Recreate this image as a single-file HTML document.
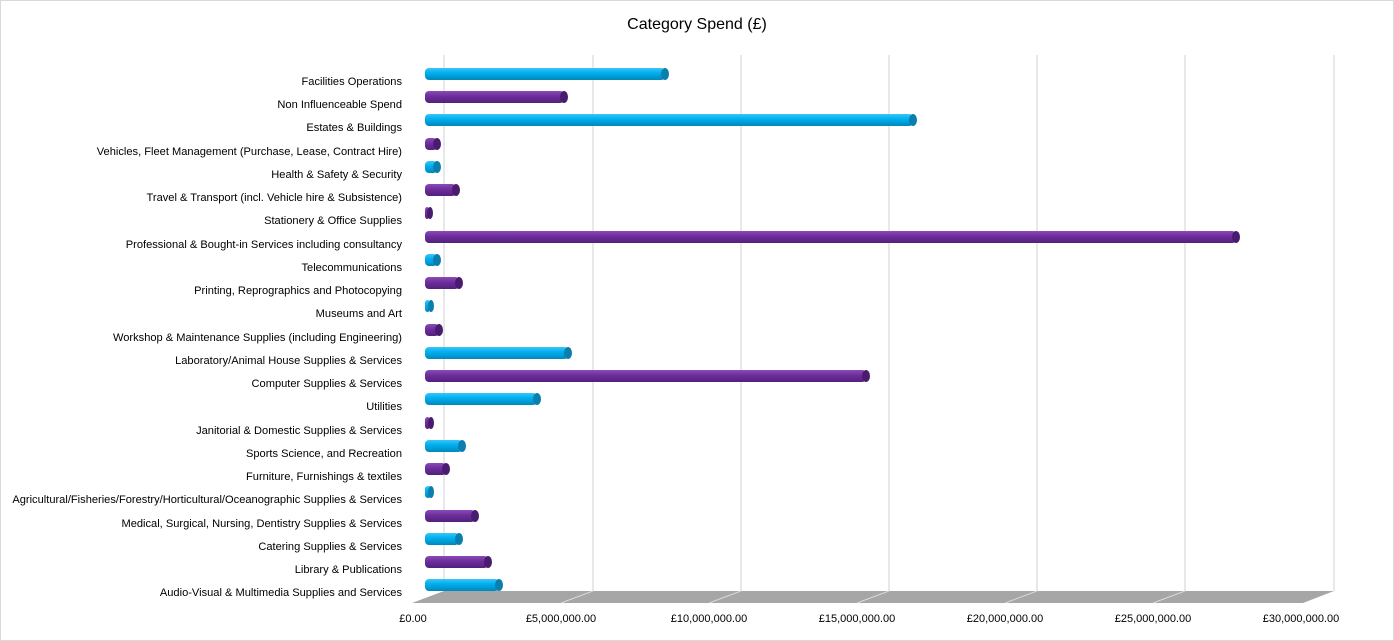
<!DOCTYPE html>
<html><head><meta charset="utf-8"><style>
html,body{margin:0;padding:0;background:#fff}
svg{display:block}
text{font-family:"Liberation Sans",sans-serif;fill:#000}
</style></head><body>
<svg width="1394" height="641" viewBox="0 0 1394 641" xmlns="http://www.w3.org/2000/svg">
<defs>
<linearGradient id="gc" x1="0" y1="0" x2="0" y2="1"><stop offset="0" stop-color="#39c6f7"/><stop offset="0.4" stop-color="#00b0f0"/><stop offset="1" stop-color="#0088ba"/></linearGradient>
<linearGradient id="gp" x1="0" y1="0" x2="0" y2="1"><stop offset="0" stop-color="#8a4cb8"/><stop offset="0.4" stop-color="#7030a0"/><stop offset="1" stop-color="#52207a"/></linearGradient>
</defs>
<rect x="0.5" y="0.5" width="1393" height="640" fill="#fff" stroke="#d9d9d9"/>
<text x="697" y="29" font-size="16" text-anchor="middle">Category Spend (£)</text>
<g stroke="#d9d9d9" stroke-width="1.2">
<line x1="444" y1="55" x2="444" y2="591"/>
<line x1="593" y1="55" x2="593" y2="591"/>
<line x1="741" y1="55" x2="741" y2="591"/>
<line x1="889" y1="55" x2="889" y2="591"/>
<line x1="1037" y1="55" x2="1037" y2="591"/>
<line x1="1185" y1="55" x2="1185" y2="591"/>
<line x1="1334" y1="55" x2="1334" y2="591"/>
</g>
<polygon points="444,591 1334,591 1303,603 412,603" fill="#a6a6a6"/>
<g stroke="#d9d9d9" stroke-width="1">
<line x1="593" y1="591" x2="561" y2="603"/>
<line x1="741" y1="591" x2="709" y2="603"/>
<line x1="889" y1="591" x2="857" y2="603"/>
<line x1="1037" y1="591" x2="1005" y2="603"/>
<line x1="1185" y1="591" x2="1153" y2="603"/>
</g>
<g font-size="11" text-anchor="middle">
<text x="413" y="622">£0.00</text>
<text x="561" y="622">£5,000,000.00</text>
<text x="709" y="622">£10,000,000.00</text>
<text x="857" y="622">£15,000,000.00</text>
<text x="1005" y="622">£20,000,000.00</text>
<text x="1153" y="622">£25,000,000.00</text>
<text x="1301" y="622">£30,000,000.00</text>
</g>
<g font-size="11.1" text-anchor="end">
<text x="402" y="85">Facilities Operations</text>
<text x="402" y="108">Non Influenceable Spend</text>
<text x="402" y="131">Estates &amp; Buildings</text>
<text x="402" y="155">Vehicles, Fleet Management (Purchase, Lease, Contract Hire)</text>
<text x="402" y="178">Health &amp; Safety &amp; Security</text>
<text x="402" y="201">Travel &amp; Transport (incl. Vehicle hire &amp; Subsistence)</text>
<text x="402" y="224">Stationery &amp; Office Supplies</text>
<text x="402" y="248">Professional &amp; Bought-in Services including consultancy</text>
<text x="402" y="271">Telecommunications</text>
<text x="402" y="294">Printing, Reprographics and Photocopying</text>
<text x="402" y="317">Museums and Art</text>
<text x="402" y="341">Workshop &amp; Maintenance Supplies (including Engineering)</text>
<text x="402" y="364">Laboratory/Animal House Supplies &amp; Services</text>
<text x="402" y="387">Computer Supplies &amp; Services</text>
<text x="402" y="410">Utilities</text>
<text x="402" y="434">Janitorial &amp; Domestic Supplies &amp; Services</text>
<text x="402" y="457">Sports Science, and Recreation</text>
<text x="402" y="480">Furniture, Furnishings &amp; textiles</text>
<text x="402" y="503">Agricultural/Fisheries/Forestry/Horticultural/Oceanographic Supplies &amp; Services</text>
<text x="402" y="527">Medical, Surgical, Nursing, Dentistry Supplies &amp; Services</text>
<text x="402" y="550">Catering Supplies &amp; Services</text>
<text x="402" y="573">Library &amp; Publications</text>
<text x="402" y="596">Audio-Visual &amp; Multimedia Supplies and Services</text>
</g>
<g>
<rect x="425" y="68" width="240" height="12" rx="4" fill="url(#gc)"/><ellipse cx="665" cy="74" rx="4" ry="6" fill="#0a7fae"/>
<rect x="425" y="91" width="139" height="12" rx="4" fill="url(#gp)"/><ellipse cx="564" cy="97" rx="4" ry="6" fill="#4a1c70"/>
<rect x="425" y="114" width="488" height="12" rx="4" fill="url(#gc)"/><ellipse cx="913" cy="120" rx="4" ry="6" fill="#0a7fae"/>
<rect x="425" y="138" width="12" height="12" rx="4" fill="url(#gp)"/><ellipse cx="437" cy="144" rx="4" ry="6" fill="#4a1c70"/>
<rect x="425" y="161" width="12" height="12" rx="4" fill="url(#gc)"/><ellipse cx="437" cy="167" rx="4" ry="6" fill="#0a7fae"/>
<rect x="425" y="184" width="31" height="12" rx="4" fill="url(#gp)"/><ellipse cx="456" cy="190" rx="4" ry="6" fill="#4a1c70"/>
<rect x="425" y="207" width="4" height="12" rx="3" fill="url(#gp)"/><ellipse cx="430" cy="213" rx="3" ry="6" fill="#4a1c70"/>
<rect x="425" y="231" width="811" height="12" rx="4" fill="url(#gp)"/><ellipse cx="1236" cy="237" rx="4" ry="6" fill="#4a1c70"/>
<rect x="425" y="254" width="12" height="12" rx="4" fill="url(#gc)"/><ellipse cx="437" cy="260" rx="4" ry="6" fill="#0a7fae"/>
<rect x="425" y="277" width="34" height="12" rx="4" fill="url(#gp)"/><ellipse cx="459" cy="283" rx="4" ry="6" fill="#4a1c70"/>
<rect x="425" y="300" width="5" height="12" rx="3" fill="url(#gc)"/><ellipse cx="431" cy="306" rx="3" ry="6" fill="#0a7fae"/>
<rect x="425" y="324" width="14" height="12" rx="4" fill="url(#gp)"/><ellipse cx="439" cy="330" rx="4" ry="6" fill="#4a1c70"/>
<rect x="425" y="347" width="143" height="12" rx="4" fill="url(#gc)"/><ellipse cx="568" cy="353" rx="4" ry="6" fill="#0a7fae"/>
<rect x="425" y="370" width="441" height="12" rx="4" fill="url(#gp)"/><ellipse cx="866" cy="376" rx="4" ry="6" fill="#4a1c70"/>
<rect x="425" y="393" width="112" height="12" rx="4" fill="url(#gc)"/><ellipse cx="537" cy="399" rx="4" ry="6" fill="#0a7fae"/>
<rect x="425" y="417" width="5" height="12" rx="3" fill="url(#gp)"/><ellipse cx="431" cy="423" rx="3" ry="6" fill="#4a1c70"/>
<rect x="425" y="440" width="37" height="12" rx="4" fill="url(#gc)"/><ellipse cx="462" cy="446" rx="4" ry="6" fill="#0a7fae"/>
<rect x="425" y="463" width="21" height="12" rx="4" fill="url(#gp)"/><ellipse cx="446" cy="469" rx="4" ry="6" fill="#4a1c70"/>
<rect x="425" y="486" width="6" height="12" rx="3" fill="url(#gc)"/><ellipse cx="431" cy="492" rx="3" ry="6" fill="#0a7fae"/>
<rect x="425" y="510" width="50" height="12" rx="4" fill="url(#gp)"/><ellipse cx="475" cy="516" rx="4" ry="6" fill="#4a1c70"/>
<rect x="425" y="533" width="34" height="12" rx="4" fill="url(#gc)"/><ellipse cx="459" cy="539" rx="4" ry="6" fill="#0a7fae"/>
<rect x="425" y="556" width="63" height="12" rx="4" fill="url(#gp)"/><ellipse cx="488" cy="562" rx="4" ry="6" fill="#4a1c70"/>
<rect x="425" y="579" width="74" height="12" rx="4" fill="url(#gc)"/><ellipse cx="499" cy="585" rx="4" ry="6" fill="#0a7fae"/>
</g>
</svg>
</body></html>
